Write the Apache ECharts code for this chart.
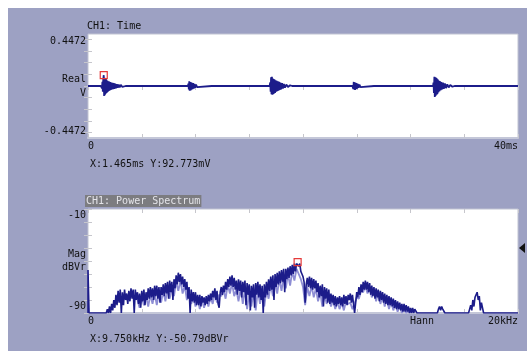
<!DOCTYPE html>
<html>
<head>
<meta charset="utf-8">
<script src="https://cdn.jsdelivr.net/npm/echarts@6/dist/echarts.min.js"></script>
<style>
  html, body { margin: 0; padding: 0; background: #fff; }
  #panel { position: absolute; left: 8px; top: 8px; width: 519px; height: 343px; background: #9da1c3; }
  #chart { position: absolute; left: 0; top: 0; width: 527px; height: 351px; }
</style>
</head>
<body>
<div id="panel"></div>
<div id="chart"></div>
<script>
// time trace, [ms, V]
const timeSignal = [
  [0, 0], [1.2, 0], [1.26, 0.012], [1.3, -0.02], [1.34, 0.035], [1.38, -0.05], [1.42, 0.06], [1.465, 0.0928],
  [1.5, -0.085], [1.53, 0.07], [1.56, -0.08], [1.6, 0.055], [1.63, -0.07], [1.67, 0.06], [1.7, -0.06],
  [1.74, 0.05], [1.77, -0.055], [1.81, 0.045], [1.85, -0.05], [1.89, 0.04], [1.93, -0.042], [1.97, 0.038],
  [2.02, -0.038], [2.07, 0.034], [2.12, -0.034], [2.17, 0.03], [2.22, -0.03], [2.28, 0.028], [2.34, -0.028],
  [2.4, 0.024], [2.46, -0.024], [2.53, 0.02], [2.6, -0.02], [2.68, 0.016], [2.76, -0.016], [2.85, 0.013],
  [2.95, -0.012], [3.05, 0.01], [3.2, -0.008], [3.35, 0.006], [3.5, 0],
  [4.0, 0], [4.05, 0.008], [4.1, -0.006], [4.15, 0], [5.0, 0], [5.05, -0.007], [5.1, 0.006], [5.15, 0],
  [6.3, 0], [6.35, 0.007], [6.4, -0.006], [6.45, 0], [7.6, 0], [7.65, -0.006], [7.7, 0.006], [7.75, 0],
  [9.3, 0], [9.34, 0.02], [9.38, -0.03], [9.42, 0.04], [9.46, -0.04], [9.5, 0.035], [9.54, -0.038],
  [9.58, 0.032], [9.62, -0.032], [9.67, 0.028], [9.72, -0.028], [9.78, 0.024], [9.84, -0.022], [9.9, 0.018],
  [9.97, -0.016], [10.05, 0.012], [10.15, -0.01], [10.3, 0],
  [11.5, 0], [11.55, 0.006], [11.6, -0.006], [11.65, 0], [13.2, 0], [13.25, -0.006], [13.3, 0.006], [13.35, 0],
  [16.9, 0], [16.95, 0.03], [16.99, -0.05], [17.03, 0.075], [17.07, -0.07], [17.11, 0.08], [17.15, -0.075],
  [17.19, 0.065], [17.23, -0.07], [17.27, 0.06], [17.31, -0.065], [17.35, 0.055], [17.4, -0.06], [17.45, 0.05],
  [17.5, -0.05], [17.55, 0.045], [17.6, -0.045], [17.66, 0.04], [17.72, -0.04], [17.78, 0.035], [17.84, -0.034],
  [17.9, 0.03], [17.97, -0.028], [18.05, 0.024], [18.13, -0.022], [18.22, 0.018], [18.32, -0.015], [18.45, 0.012],
  [18.6, -0.009], [18.8, 0.006], [19.0, 0],
  [20.2, 0], [20.25, 0.006], [20.3, -0.006], [20.35, 0], [21.8, 0], [21.85, -0.006], [21.9, 0.006], [21.95, 0],
  [24.6, 0], [24.64, 0.015], [24.68, -0.025], [24.72, 0.035], [24.76, -0.03], [24.8, 0.032], [24.84, -0.034],
  [24.88, 0.028], [24.93, -0.028], [24.98, 0.024], [25.04, -0.022], [25.1, 0.018], [25.17, -0.015], [25.25, 0.012],
  [25.35, -0.009], [25.5, 0],
  [26.6, 0], [26.65, 0.006], [26.7, -0.006], [26.75, 0], [30.4, 0], [30.45, -0.006], [30.5, 0.006], [30.55, 0],
  [32.1, 0], [32.14, 0.03], [32.18, -0.06], [32.22, 0.08], [32.26, -0.095], [32.3, 0.075], [32.34, -0.085],
  [32.38, 0.07], [32.42, -0.075], [32.46, 0.065], [32.5, -0.07], [32.55, 0.055], [32.6, -0.055], [32.65, 0.045],
  [32.7, -0.045], [32.76, 0.04], [32.82, -0.036], [32.88, 0.034], [32.95, -0.03], [33.02, 0.028], [33.1, -0.025],
  [33.2, 0.022], [33.3, -0.018], [33.42, 0.015], [33.55, -0.012], [33.7, 0.009], [33.9, -0.006], [34.1, 0],
  [35.5, 0], [35.55, 0.006], [35.6, -0.006], [35.65, 0], [37.8, 0], [37.85, -0.006], [37.9, 0.006], [37.95, 0],
  [40, 0]
];

// power spectrum, [kHz, dBVr]
const spectrumDark = [
  [0, -90], [0, -57], [0.03, -57], [0.05, -90], [0.85, -90], [0.9, -87], [0.95, -90], [1.0, -85], [1.05, -90],
  [1.1, -83], [1.15, -88], [1.2, -80], [1.25, -86], [1.3, -76], [1.35, -84], [1.4, -73], [1.45, -82], [1.5, -72],
  [1.55, -90], [1.6, -74], [1.65, -84], [1.7, -72], [1.75, -80], [1.8, -75], [1.85, -83], [1.9, -73], [1.95, -81],
  [2.0, -71], [2.05, -79], [2.1, -72], [2.15, -90], [2.2, -72], [2.25, -80], [2.3, -74], [2.35, -83], [2.4, -75],
  [2.45, -86], [2.5, -73], [2.55, -81], [2.6, -72], [2.65, -84], [2.7, -74], [2.75, -80], [2.8, -71], [2.85, -79],
  [2.9, -70], [2.95, -78], [3.0, -71], [3.05, -80], [3.1, -69], [3.15, -77], [3.2, -69], [3.25, -79], [3.3, -70],
  [3.35, -82], [3.4, -70], [3.45, -76], [3.5, -68], [3.55, -77], [3.6, -67], [3.65, -75], [3.7, -66], [3.75, -79],
  [3.8, -65], [3.85, -74], [3.9, -66], [3.95, -80], [4.0, -64], [4.05, -71], [4.1, -61], [4.15, -68], [4.2, -59],
  [4.25, -66], [4.3, -60], [4.35, -68], [4.4, -62], [4.45, -70], [4.5, -64], [4.55, -72], [4.6, -66], [4.65, -79],
  [4.7, -70], [4.75, -90], [4.8, -72], [4.85, -81], [4.9, -74], [4.95, -82], [5.0, -74], [5.05, -84], [5.1, -76],
  [5.15, -84], [5.2, -76], [5.25, -85], [5.3, -77], [5.35, -82], [5.4, -78], [5.45, -84], [5.5, -77], [5.55, -83],
  [5.6, -76], [5.65, -81], [5.7, -75], [5.75, -80], [5.8, -73], [5.85, -78], [5.9, -71], [5.95, -80], [6.0, -73],
  [6.05, -83], [6.1, -86], [6.15, -74], [6.2, -70], [6.25, -76], [6.3, -69], [6.35, -74], [6.4, -66], [6.45, -72],
  [6.5, -64], [6.55, -70], [6.6, -62], [6.65, -69], [6.7, -61], [6.75, -70], [6.8, -63], [6.85, -72], [6.9, -65],
  [6.95, -76], [7.0, -64], [7.05, -73], [7.1, -65], [7.15, -78], [7.2, -66], [7.25, -74], [7.3, -65], [7.35, -84],
  [7.4, -67], [7.45, -76], [7.5, -68], [7.55, -88], [7.6, -69], [7.65, -78], [7.7, -68], [7.75, -86], [7.8, -67],
  [7.85, -76], [7.9, -66], [7.95, -78], [8.0, -68], [8.05, -80], [8.1, -69], [8.15, -90], [8.2, -68], [8.25, -78],
  [8.3, -66], [8.35, -76], [8.4, -64], [8.45, -73], [8.5, -62], [8.55, -72], [8.6, -61], [8.65, -80], [8.7, -60],
  [8.75, -70], [8.8, -59], [8.85, -68], [8.9, -58], [8.95, -67], [9.0, -57], [9.05, -66], [9.1, -56], [9.15, -74],
  [9.2, -56], [9.25, -64], [9.3, -55], [9.35, -63], [9.4, -54], [9.45, -61], [9.5, -53], [9.55, -60], [9.6, -52],
  [9.65, -58], [9.7, -52], [9.75, -50.79], [9.8, -54], [9.85, -52], [9.9, -58], [9.95, -60], [10.0, -62],
  [10.05, -66], [10.1, -82], [10.15, -68], [10.2, -63], [10.25, -70], [10.3, -62], [10.35, -71], [10.4, -63],
  [10.45, -72], [10.5, -64], [10.55, -71], [10.6, -65], [10.65, -74], [10.7, -67], [10.75, -78], [10.8, -69],
  [10.85, -77], [10.9, -68], [10.95, -85], [11.0, -70], [11.05, -79], [11.1, -71], [11.15, -82], [11.2, -72],
  [11.25, -83], [11.3, -75], [11.35, -82], [11.4, -76], [11.45, -84], [11.5, -77], [11.55, -85], [11.6, -78],
  [11.65, -83], [11.7, -77], [11.75, -84], [11.8, -78], [11.85, -85], [11.9, -76], [11.95, -83], [12.0, -77],
  [12.05, -84], [12.1, -76], [12.15, -80], [12.2, -75], [12.25, -82], [12.3, -76], [12.4, -90], [12.45, -82],
  [12.5, -74], [12.55, -78], [12.6, -70], [12.65, -76], [12.7, -68], [12.75, -74], [12.8, -66], [12.85, -72],
  [12.9, -65], [12.95, -72], [13.0, -66], [13.05, -74], [13.1, -67], [13.15, -76], [13.2, -69], [13.25, -77],
  [13.3, -70], [13.35, -79], [13.4, -71], [13.45, -78], [13.5, -72], [13.55, -81], [13.6, -73], [13.65, -80],
  [13.7, -74], [13.75, -82], [13.8, -75], [13.85, -83], [13.9, -76], [13.95, -84], [14.0, -77], [14.05, -84],
  [14.1, -78], [14.15, -85], [14.2, -79], [14.25, -86], [14.3, -80], [14.35, -87], [14.4, -81], [14.45, -87],
  [14.5, -82], [14.55, -88], [14.6, -83], [14.65, -89], [14.7, -83], [14.75, -89], [14.8, -84], [14.85, -89],
  [14.9, -85], [14.95, -90], [15.0, -86], [15.05, -90], [15.1, -86], [15.15, -90], [15.2, -87], [15.3, -90],
  [16.25, -90], [16.3, -87], [16.35, -85], [16.4, -88], [16.45, -85], [16.5, -87], [16.55, -86], [16.6, -90],
  [17.7, -90], [17.75, -87], [17.8, -84], [17.85, -88], [17.9, -80], [17.95, -85], [18.0, -78], [18.05, -76],
  [18.1, -74], [18.15, -80], [18.2, -77], [18.25, -88], [18.3, -82], [18.35, -86], [18.4, -90], [20, -90]
];

const spectrumLight = [
  [2.3, -80], [2.4, -86], [2.5, -78], [2.6, -84], [2.7, -77], [2.8, -85], [2.9, -76], [3.0, -83], [3.1, -75],
  [3.2, -84], [3.3, -74], [3.4, -82], [3.5, -73], [3.6, -81], [3.7, -71], [3.8, -79], [3.9, -70], [4.0, -77],
  [4.1, -66], [4.2, -73], [4.3, -65], [4.4, -75], [4.5, -69], [4.6, -80], [4.7, -74], [4.8, -83], [4.9, -78],
  [5.0, -85], [5.1, -79], [5.2, -87], [5.3, -80], [5.4, -86], [5.5, -79], [5.6, -85], [5.7, -78], [5.8, -83],
  [5.9, -75], [6.0, -82], [6.1, -76], [6.2, -77], [6.3, -72], [6.4, -79], [6.5, -68], [6.6, -75], [6.7, -67],
  [6.8, -77], [6.9, -72], [7.0, -81], [7.1, -71], [7.2, -83], [7.3, -72], [7.4, -87], [7.5, -74], [7.6, -85],
  [7.7, -73], [7.8, -88], [7.9, -72], [8.0, -83], [8.1, -74], [8.2, -85], [8.3, -72], [8.4, -79], [8.5, -68],
  [8.6, -77], [8.7, -66], [8.8, -75], [8.9, -64], [9.0, -73], [9.1, -62], [9.2, -71], [9.3, -60], [9.4, -69],
  [9.5, -58], [9.6, -65], [9.7, -56], [9.8, -60], [9.9, -64], [10.0, -70], [10.1, -84], [10.2, -70], [10.3, -77],
  [10.4, -69], [10.5, -78], [10.6, -71], [10.7, -81], [10.8, -74], [10.9, -85], [11.0, -76], [11.1, -83],
  [11.2, -77], [11.3, -85], [11.4, -80], [11.5, -87], [11.6, -81], [11.7, -87], [11.8, -82], [11.9, -88],
  [12.0, -81], [12.1, -83], [12.2, -82], [12.3, -87], [12.5, -78], [12.6, -79], [12.7, -73], [12.8, -74],
  [12.9, -69], [13.0, -75], [13.1, -70], [13.2, -78], [13.3, -72], [13.4, -81], [13.5, -74], [13.6, -83],
  [13.7, -77], [13.8, -85], [13.9, -79], [14.0, -87], [14.1, -81], [14.2, -88], [14.3, -83], [14.4, -89],
  [14.5, -85], [14.6, -90], [14.7, -86], [14.8, -90], [14.9, -88], [15.0, -90]
];

const timeTicks = [-0.4, -0.3, -0.2, -0.1, 0, 0.1, 0.2, 0.3, 0.4];
const timeLabels = [-0.4472, 0, 0.4472];
const magLabels = [-90, -50, -10];
const timeCursor = [1.465, 0.092773];
const specCursor = [9.75, -50.79];
const refLevel = -40;
const timeReadout = 'X:1.465ms Y:92.773mV';
const specReadout = 'X:9.750kHz Y:-50.79dBVr';

const FONT = 'DejaVu Sans Mono';
const INK = '#111';
const TICK = '#c6c6cc';
const NAVY = '#1c1c8a';

const chart = echarts.init(document.getElementById('chart'));

const baseText = { fontFamily: FONT, fontSize: 10, color: INK };

const xBottom = (grid, max, interval, lastLabel) => ({
  type: 'value', gridIndex: grid, position: 'bottom', min: 0, max: max, interval: interval,
  axisLine: { show: true, onZero: false, lineStyle: { color: '#c4c7d8', width: 2 } },
  axisTick: { inside: true, length: 4, lineStyle: { color: TICK } },
  splitLine: { show: false },
  axisLabel: {
    ...baseText, margin: 3, customValues: [0, max],
    alignMinLabel: 'left', alignMaxLabel: 'right',
    formatter: (v) => (v === 0 ? '0' : lastLabel)
  }
});
const xTop = (grid, max, interval) => ({
  type: 'value', gridIndex: grid, position: 'top', min: 0, max: max, interval: interval,
  axisLine: { show: false }, axisTick: { inside: true, length: 4, lineStyle: { color: TICK } },
  axisLabel: { show: false }, splitLine: { show: false }
});

const option = {
  animation: false,
  title: [
    { text: 'CH1: Time', left: 87, top: 20, padding: 0, textStyle: { ...baseText, fontWeight: 'normal', lineHeight: 12 } },
    {
      text: 'CH1: Power Spectrum', left: 85, top: 195, padding: [0, 1], backgroundColor: '#7c7c80',
      textStyle: { ...baseText, color: '#e4e4e8', fontWeight: 'normal', lineHeight: 12 }
    }
  ],
  grid: [
    { left: 88, top: 34, width: 430, height: 104, show: true, backgroundColor: '#fff', borderColor: '#c0c3d2', borderWidth: 1 },
    { left: 88, top: 209, width: 430, height: 104, show: true, backgroundColor: '#fff', borderColor: '#c0c3d2', borderWidth: 1 }
  ],
  xAxis: [
    xBottom(0, 40, 5, '40ms'),
    xTop(0, 40, 5),
    xBottom(1, 20, 2.5, '20kHz'),
    xTop(1, 20, 2.5)
  ],
  yAxis: [
    {
      type: 'value', gridIndex: 0, position: 'left', min: -0.4472, max: 0.4472,
      axisLine: { show: false }, splitLine: { show: false },
      axisTick: { inside: true, length: 4, customValues: timeTicks, lineStyle: { color: TICK } },
      axisLabel: {
        ...baseText, margin: 2, lineHeight: 14, customValues: timeLabels,
        verticalAlignMinLabel: 'bottom', verticalAlignMaxLabel: 'top',
        formatter: (v) => (v > 0.4 ? '0.4472' : v < -0.4 ? '-0.4472' : 'Real\nV')
      }
    },
    {
      type: 'value', gridIndex: 0, position: 'right', min: -0.4472, max: 0.4472,
      axisLine: { show: false }, splitLine: { show: false }, axisLabel: { show: false },
      axisTick: { inside: true, length: 4, customValues: timeTicks, lineStyle: { color: TICK } }
    },
    {
      type: 'value', gridIndex: 1, position: 'left', min: -90, max: -10, interval: 10,
      axisLine: { show: false }, splitLine: { show: false },
      axisTick: { inside: true, length: 4, lineStyle: { color: TICK } },
      axisLabel: {
        ...baseText, margin: 2, lineHeight: 13, customValues: magLabels,
        verticalAlignMinLabel: 'bottom', verticalAlignMaxLabel: 'top',
        formatter: (v) => (v === -50 ? 'Mag\ndBVr' : String(v))
      }
    },
    {
      type: 'value', gridIndex: 1, position: 'right', min: -90, max: -10, interval: 10,
      axisLine: { show: false }, splitLine: { show: false }, axisLabel: { show: false },
      axisTick: { inside: true, length: 4, lineStyle: { color: TICK } }
    }
  ],
  series: [
    {
      type: 'line', xAxisIndex: 0, yAxisIndex: 0, data: timeSignal, showSymbol: false,
      lineStyle: { color: NAVY, width: 1.8 }, itemStyle: { color: NAVY },
      markPoint: {
        symbol: 'rect', symbolSize: 7, label: { show: false },
        itemStyle: { color: 'rgba(0,0,0,0)', borderColor: '#e53a3a', borderWidth: 1.2 },
        data: [{ coord: timeCursor }]
      }
    },
    {
      type: 'line', xAxisIndex: 2, yAxisIndex: 2, data: spectrumLight, showSymbol: false,
      lineStyle: { color: '#8d8dd4', width: 1.8 }, itemStyle: { color: '#8d8dd4' }
    },
    {
      type: 'line', xAxisIndex: 2, yAxisIndex: 2, data: spectrumDark, showSymbol: false,
      lineStyle: { color: NAVY, width: 1.6 }, itemStyle: { color: NAVY },
      markPoint: {
        label: { show: false },
        data: [
          {
            coord: specCursor, symbol: 'rect', symbolSize: 7,
            itemStyle: { color: 'rgba(0,0,0,0)', borderColor: '#e53a3a', borderWidth: 1.2 }
          },
          {
            coord: [20, refLevel], symbol: 'triangle', symbolSize: [10, 6], symbolRotate: 90,
            symbolOffset: [4, 0], itemStyle: { color: '#111', borderWidth: 0 }
          }
        ]
      }
    }
  ],
  graphic: [
    { type: 'text', left: 90, top: 159, style: { text: timeReadout, font: '10px "DejaVu Sans Mono"', fill: INK } },
    { type: 'text', left: 90, top: 334, style: { text: specReadout, font: '10px "DejaVu Sans Mono"', fill: INK } },
    { type: 'text', left: 410, top: 316, style: { text: 'Hann', font: '10px "DejaVu Sans Mono"', fill: INK } }
  ]
};

chart.setOption(option);
</script>
</body>
</html>
